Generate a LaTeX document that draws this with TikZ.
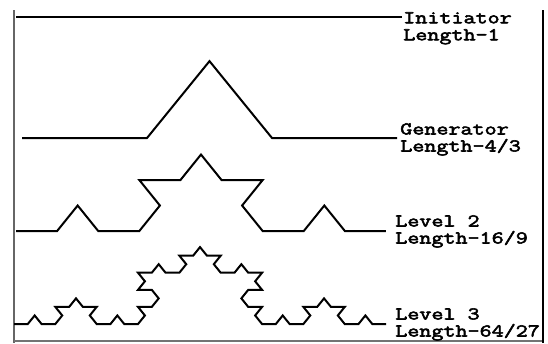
\documentclass[tikz,border=0pt]{standalone}
\usepackage{fontspec}
\newfontfamily\labelfont[FakeStretch=1.3, FakeBold=3]{Latin Modern Mono}

% Koch curve: start coordinate, last segment index, segment length, vertical squash
\newcommand\kochcurve[4]{%
  \draw[curve, yscale=-#4] (#1)
    \foreach \i [evaluate=\i as \dir using
      {60*((mod(\i,4)==1)-(mod(\i,4)==2))
      +60*((mod(floor(\i/4),4)==1)-(mod(floor(\i/4),4)==2))
      +60*((mod(floor(\i/16),4)==1)-(mod(floor(\i/16),4)==2))}]
    in {0,...,#2} { -- ++(\dir:#3) };%
}

\begin{document}
\begin{tikzpicture}[x=0.75pt,y=-0.75pt,
  curve/.style={line width=1.5pt, line join=miter},
  lbl/.style={font=\labelfont\fontsize{13.5}{12.75}\selectfont,
              align=left, anchor=north west, inner sep=0pt}]
\useasboundingbox (0,0) rectangle (548,343);

% frame (open at the top)
\draw[line width=1.5pt, black!60] (14,10) -- (14,343);
\draw[line width=1.4pt, black!55] (14,341) -- (543,341);
\draw[line width=2.2pt] (543,10) -- (543,343);

% start points of the four stages
\coordinate (i0) at (16,17);
\coordinate (i1) at (402,17);
\coordinate (g0) at (22,138);
\coordinate (l2) at (16,231);
\coordinate (l3) at (14,324);

% initiator
\draw[curve] (i0) -- (i1);
% generator and the next two levels
\kochcurve{g0}{3}{125}{0.71}
\kochcurve{l2}{15}{41.11}{0.716}
\kochcurve{l3}{63}{13.78}{0.716}

% labels
\node[lbl] (t1) at (403,12) {Initiator\\Length-1};
\node[lbl] (t2) at (400,123) {Generator\\Length-4/3};
\node[lbl] (t3) at (395,215) {Level 2\\Length-16/9};
\node[lbl] (t4) at (395,308) {Level 3\\Length-64/27};
\end{tikzpicture}
\end{document}
